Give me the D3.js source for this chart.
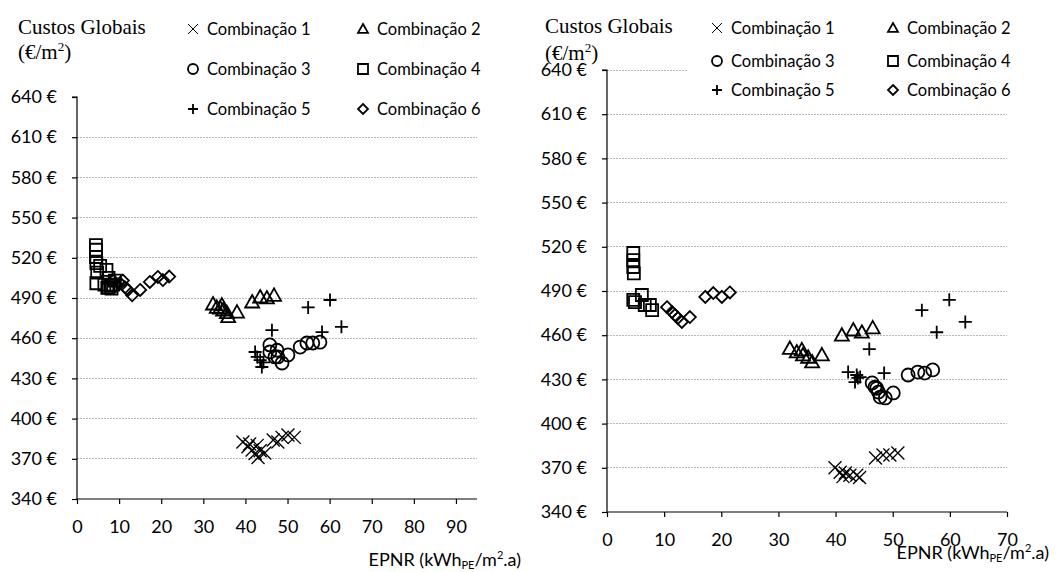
<!DOCTYPE html>
<html>
<head>
<meta charset="utf-8">
<script src="https://cdn.jsdelivr.net/npm/d3@7"></script>
<style>
  html, body { margin: 0; padding: 0; background: #fff; }
  svg { display: block; }
</style>
</head>
<body>
<svg id="chart" width="1058" height="572"></svg>
<script>
// ---- Data: [EPNR (kWh_PE/m².a), Custos Globais (€/m²)] ----
const seriesNames = ["Combinação 1", "Combinação 2", "Combinação 3", "Combinação 4", "Combinação 5", "Combinação 6"];

// Left panel
const leftComb1 = [[39.4,382.5],[40.6,379],[41.6,376.6],[42.3,374],[43,371],[44.6,374.3],[42.8,380],[41,381],[43.5,376],[46.6,384],[47.7,382.5],[48.7,386],[50.1,387.8],[51.6,386]];
const leftComb2 = [[32.3,485.5],[33.2,483],[34,482.5],[34.4,484.8],[34.7,481],[35.6,479],[35.9,476],[38,479.5],[41.6,487],[43.5,490.7],[45.1,490],[46.8,492]];
const leftComb3 = [[45.8,455],[45.8,449.7],[47,446],[47.5,451],[47.7,446],[48.7,441.5],[50.1,447.5],[53,453.4],[54.6,456.4],[56,456.4],[57.7,457]];
const leftComb4 = [[4.5,529.5],[4.5,526],[4.5,520.6],[4.6,516],[4.8,509],[4.6,501],[5.5,514],[7,511],[7.5,505],[6.5,500],[7.5,498],[8.2,497],[8.6,500],[9,503],[7.2,497.5],[8,499]];
const leftComb5 = [[42.3,449.7],[43.5,443.7],[43.9,438.5],[42.8,446],[44.3,442],[46.3,466],[54.9,483],[60.1,488.5],[58.2,464.6],[62.8,468.5]];
const leftComb6 = [[8.6,503],[10.2,501],[10.9,503],[11.4,498],[12.1,496],[13.1,492],[15,496],[17.3,502],[19.2,505.7],[20.4,503.4],[21.9,506]];

// Right panel
const rightComb1 = [[39.9,370],[40.8,367],[41.7,366.5],[42.5,365],[41.3,364],[43.7,365],[44.2,363.4],[47,376.6],[48.3,378.7],[49.5,378.7],[50.9,380]];
const rightComb2 = [[32,451],[33.2,448.6],[34.1,450],[34.3,446.6],[35.2,445],[35.9,441.8],[37.6,446.6],[41.1,460],[43.1,463.5],[44.6,462],[46.5,465]];
const rightComb3 = [[46.4,427.6],[46.9,424.8],[47.2,424],[47.5,421.4],[47.8,418],[48.7,417.4],[50.1,420.8],[52.7,433],[54.4,435],[55.6,434.3],[57,436.4]];
const rightComb4 = [[4.6,515.8],[4.6,511],[4.6,506.3],[4.7,502],[4.6,484],[4.9,482.5],[6.1,487.3],[6.6,480.5],[7.5,480.5],[7.9,477]];
const rightComb5 = [[42.2,435],[43.4,428.2],[43.7,433],[43.9,431],[44.3,431.6],[45.9,450.6],[48.5,434.3],[55.1,477],[57.7,462],[59.9,484],[62.7,469]];
const rightComb6 = [[10.5,479],[11.4,475.7],[11.9,473.7],[12.4,471.7],[13.1,469],[14.5,472.3],[17.2,486],[18.6,488.6],[20.1,486],[21.5,489]];

// Axis ticks
const yTicks = [340, 370, 400, 430, 460, 490, 520, 550, 580, 610, 640];
const leftXTicks = [0, 10, 20, 30, 40, 50, 60, 70, 80, 90];
const rightXTicks = [0, 10, 20, 30, 40, 50, 60, 70];

const svg = d3.select("#chart");
const labelFont = "Lato, 'Open Sans', sans-serif";
const serifFont = "'Liberation Serif', 'DejaVu Serif', serif";

// Marker outline for each combination, centred on the origin
function markerPath(i, size) {
  const h = size / 2;
  if (i === 0) return `M${-h},${-h}L${h},${h}M${-h},${h}L${h},${-h}`;          // ×
  if (i === 1) return `M0,${-h}L${h},${h*0.78}L${-h},${h*0.78}Z`;               // △
  if (i === 2) return d3.symbol(d3.symbolCircle, Math.PI * h * h)();            // ○
  if (i === 3) return `M${-h},${-h}H${h}V${h}H${-h}Z`;                          // □
  if (i === 4) return `M${-h},0H${h}M0,${-h}V${h}`;                             // +
  return `M0,${-h}L${h},0L0,${h}L${-h},0Z`;                                     // ◇
}

function drawPanel(cfg) {
  const x = d3.scaleLinear().domain(cfg.xDomain).range([cfg.left, cfg.right]);
  const y = d3.scaleLinear().domain([340, 640]).range([cfg.bottom, cfg.top]);
  const g = svg.append("g");

  // horizontal gridlines
  g.append("g")
    .selectAll("line")
    .data(yTicks.filter(t => t !== 340 && cfg.gridTicks(t)))
    .join("line")
    .attr("x1", cfg.left).attr("x2", cfg.right)
    .attr("y1", d => y(d)).attr("y2", d => y(d))
    .attr("stroke", "#b8b8b8").attr("stroke-width", 1)
    .attr("stroke-dasharray", "1.5,1.5")
    .attr("shape-rendering", "crispEdges");

  // series markers
  cfg.series.forEach((pts, i) => {
    g.append("g")
      .selectAll("path")
      .data(pts)
      .join("path")
      .attr("transform", d => `translate(${x(d[0])},${y(d[1])})`)
      .attr("d", markerPath(i, cfg.markerSize[i]))
      .attr("fill", "none")
      .attr("stroke", "#000")
      .attr("stroke-width", i === 0 ? 1.3 : 1.8);
  });

  // y axis
  const yAxis = d3.axisLeft(y).tickValues(yTicks).tickSize(5).tickPadding(15)
    .tickFormat(d => d + " €");
  const ya = g.append("g").attr("transform", `translate(${cfg.left},0)`).call(yAxis);
  ya.select(".domain").attr("stroke", "#000").attr("stroke-width", 1.2).attr("d", `M-5,${cfg.top}H0V${cfg.bottom}`);
  ya.selectAll(".tick line").attr("stroke", "#000").attr("stroke-width", 1.2);
  ya.selectAll(".tick text").attr("font-family", labelFont).attr("font-size", 18).attr("fill", "#000");

  // x axis
  const xAxis = d3.axisBottom(x).tickValues(cfg.xTicks).tickSize(5).tickPadding(16)
    .tickFormat(d3.format("d"));
  const xa = g.append("g").attr("transform", `translate(0,${cfg.bottom})`).call(xAxis);
  xa.select(".domain").attr("stroke", "#000").attr("stroke-width", 1.2).attr("d", `M${cfg.left},0H${cfg.right}`);
  xa.selectAll(".tick line").attr("stroke", "#000").attr("stroke-width", 1.2);
  xa.selectAll(".tick text").attr("font-family", labelFont).attr("font-size", 18).attr("fill", "#000");

  // x axis title
  const xt = g.append("text")
    .attr("x", cfg.xTitle[0]).attr("y", cfg.xTitle[1])
    .attr("text-anchor", "end")
    .attr("font-family", labelFont).attr("font-size", 18).attr("fill", "#000");
  xt.append("tspan").text("EPNR (kWh");
  xt.append("tspan").attr("font-size", 11).attr("dy", 3).text("PE");
  xt.append("tspan").attr("dy", -3).text("/m");
  xt.append("tspan").attr("font-size", 11).attr("dy", -7).text("2");
  xt.append("tspan").attr("dy", 7).text(".a)");

  // y axis title (two lines)
  g.append("text")
    .attr("font-family", serifFont).attr("font-size", 21).attr("fill", "#000")
    .attr("x", cfg.yTitle[0]).attr("y", cfg.yTitle[1])
    .text("Custos Globais");
  const l2 = g.append("text")
    .attr("font-family", serifFont).attr("font-size", 21).attr("fill", "#000")
    .attr("x", cfg.yTitle[0]).attr("y", cfg.yTitle[2]);
  l2.append("tspan").text("(€/m");
  l2.append("tspan").attr("font-size", 13).attr("dy", -8).text("2");
  l2.append("tspan").attr("dy", 8).text(")");

  // legend
  const lg = g.append("g");
  lg.append("rect")
    .attr("x", cfg.legendBox[0]).attr("y", cfg.legendBox[1])
    .attr("width", cfg.legendBox[2]).attr("height", cfg.legendBox[3])
    .attr("fill", "#fff");
  seriesNames.forEach((name, i) => {
    const col = i % 2, row = Math.floor(i / 2);
    const sx = cfg.legendCols[col], sy = cfg.legendRows[row];
    lg.append("path")
      .attr("transform", `translate(${sx},${sy})`)
      .attr("d", markerPath(i, 10))
      .attr("fill", "none").attr("stroke", "#000")
      .attr("stroke-width", i === 0 ? 1 : 1.8);
    lg.append("text")
      .attr("x", sx + 14).attr("y", sy)
      .attr("dy", "0.35em")
      .attr("font-family", labelFont).attr("font-size", 16.5).attr("fill", "#000")
      .text(name);
  });
}

drawPanel({
  xDomain: [0, 95], xTicks: leftXTicks,
  left: 77, right: 477, top: 97, bottom: 499,
  gridTicks: t => t !== 640,
  series: [leftComb1, leftComb2, leftComb3, leftComb4, leftComb5, leftComb6],
  markerSize: [13, 14, 13, 12, 13, 12],
  xTitle: [521, 566],
  yTitle: [18, 34, 59],
  legendBox: [165, 6, 335, 118],
  legendCols: [193, 363],
  legendRows: [29, 69, 109]
});

drawPanel({
  xDomain: [0, 70], xTicks: rightXTicks,
  left: 607, right: 1007, top: 70, bottom: 512,
  gridTicks: t => true,
  series: [rightComb1, rightComb2, rightComb3, rightComb4, rightComb5, rightComb6],
  markerSize: [13, 14, 13, 12, 13, 12],
  xTitle: [1049, 559],
  yTitle: [545, 33, 60],
  legendBox: [687, 6, 350, 100],
  legendCols: [717, 893],
  legendRows: [28, 61, 90]
});
</script>
</body>
</html>
